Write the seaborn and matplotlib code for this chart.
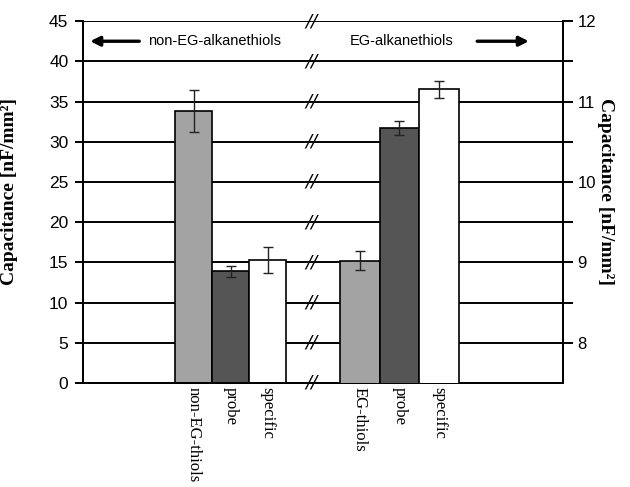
import numpy as np
import pandas as pd
import matplotlib
matplotlib.use("Agg")
import matplotlib.pyplot as plt
import seaborn as sns

# ---- data ----
left_labels = ["non-EG-thiols", "probe", "specific"]
left_values = [33.8, 13.9, 15.3]          # nF/mm^2 (left axis)
left_errors = [2.6, 0.7, 1.6]

right_labels = ["EG-thiols", "probe ", "specific "]
right_values = [9.02, 10.67, 11.15]       # nF/mm^2 (right axis)
right_errors = [0.12, 0.09, 0.10]

left_ticks = [0, 5, 10, 15, 20, 25, 30, 35, 40, 45]
right_ticks = [8, 9, 10, 11, 12]
right_minor = [8.5, 9.5, 10.5, 11.5]

colors = ["#a3a3a3", "#555555", "#ffffff"]

# ---- layout ----
left_pos = 3 + np.arange(3) * 1.0
right_pos = 7.5 + np.arange(3) * 1.07
break_x = 6.18

fig = plt.figure(figsize=(6.3, 4.87), dpi=100)
ax = fig.add_axes([0.1317, 0.2136, 0.762, 0.743])
ax2 = ax.twinx()

dfl = pd.DataFrame({"pos": left_pos, "val": left_values, "lab": left_labels})
dfr = pd.DataFrame({"pos": right_pos, "val": right_values, "lab": right_labels})

sns.barplot(data=dfl, x="pos", y="val", hue="lab", native_scale=True,
            palette=dict(zip(left_labels, colors)), width=1.0, legend=False,
            edgecolor="black", linewidth=1.2, ax=ax, zorder=3)
sns.barplot(data=dfr, x="pos", y="val", hue="lab", native_scale=True,
            palette=dict(zip(right_labels, colors)), width=1.0, legend=False,
            edgecolor="black", linewidth=1.2, ax=ax2, zorder=3)

ax.errorbar(left_pos, left_values, yerr=left_errors, fmt="none", ecolor="#222222",
            elinewidth=1.0, capsize=3.5, capthick=1.0, zorder=5)
ax2.errorbar(right_pos, right_values, yerr=right_errors, fmt="none", ecolor="#222222",
             elinewidth=1.0, capsize=3.5, capthick=1.0, zorder=5)

# axes limits / ticks
ax.set_xlim(0, 13)
ax.set_ylim(0, 45)
ax.set_yticks(left_ticks)
ax2.set_ylim(7.5, 12)
ax2.set_yticks(right_ticks)
ax2.set_yticks(right_minor, minor=True)

ax.yaxis.grid(True, color="black", linewidth=1.4)
ax.set_axisbelow(True)

ax.set_xticks(list(left_pos) + list(right_pos))
ax.set_xticklabels([l.strip() for l in left_labels + right_labels], rotation=270,
                   va="top", ha="center", family="Liberation Serif", fontsize=12)
ax.tick_params(axis="x", length=0, pad=3)
ax.tick_params(axis="y", direction="out", length=5.5, width=1.4, labelsize=12.5, pad=5)
for t in ax.get_yticklabels():
    t.set_family("Liberation Sans")
ax2.tick_params(axis="y", which="both", direction="out", length=7.5, width=1.4,
                labelsize=12, pad=3)
for t in ax2.get_yticklabels():
    t.set_family("Liberation Sans")

for a in (ax, ax2):
    a.spines["top"].set_visible(False)
    for s in ("left", "right", "bottom"):
        a.spines[s].set_linewidth(1.4)
    a.set_xlabel("")

ax.set_ylabel("Capacitance [nF/mm²]", family="Liberation Serif", fontweight="bold",
              fontsize=14)
ax.yaxis.set_label_coords(-0.135, 0.53)
ax2.set_ylabel("Capacitance [nF/mm²]", family="Liberation Serif", fontweight="bold",
               fontsize=14, rotation=270, va="center")
ax2.yaxis.set_label_coords(1.0875, 0.53)

# break marks
for y in left_ticks:
    ax.text(break_x, y, "//", ha="center", va="center", fontsize=13,
            family="DejaVu Sans", style="italic", zorder=6)

# arrows and group annotations
ax.annotate("", xy=(0.12, 42.5), xytext=(1.6, 42.5),
            arrowprops=dict(arrowstyle="-|>", lw=2.4, color="black", mutation_scale=14))
ax.text(1.76, 42.5, "non-EG-alkanethiols", ha="left", va="center", fontsize=10.5,
        family="Liberation Sans")
ax.text(7.23, 42.5, "EG-alkanethiols", ha="left", va="center", fontsize=10.5,
        family="Liberation Sans")
ax.annotate("", xy=(12.15, 42.5), xytext=(10.6, 42.5),
            arrowprops=dict(arrowstyle="-|>", lw=2.4, color="black", mutation_scale=14))

fig.savefig("out.png", dpi=100)
